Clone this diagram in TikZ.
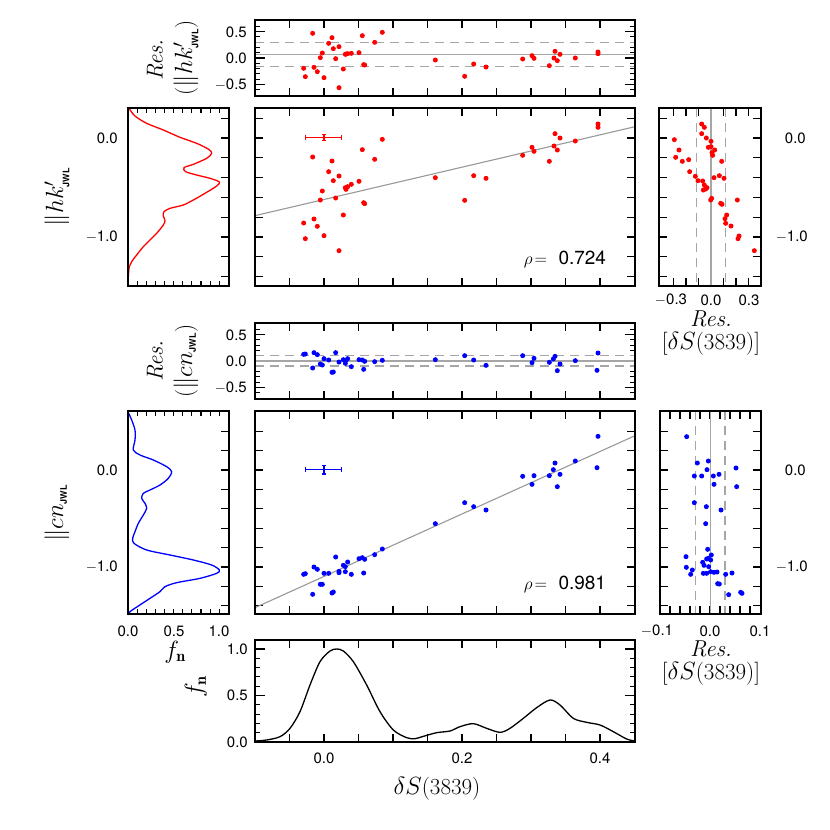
\documentclass[tikz,border=0pt]{standalone}
\usepackage{fontspec}
\newfontfamily\hv{TeX Gyre Heros}
\begin{document}
\begin{tikzpicture}[x=1pt,y=-1pt,
  zm/.style 2 args={shift={(#1,#2)},x={(0.33333pt,0)},y={(0,-0.33333pt)}},
  frame/.style={line width=1.6pt,black},
  tk/.style={line width=1.1pt,black},
  fitl/.style={line width=1.1pt,gray!80},
  zl/.style={line width=1.2pt,gray!70},
  dl/.style={line width=1.2pt,gray!70,dash pattern=on 9pt off 6pt},
  curve/.style={line width=1.3pt},
  tl/.style={font=\hv\fontsize{15}{17}\selectfont,inner sep=0pt},
  al/.style={font=\fontsize{23}{26}\selectfont,inner sep=0pt},
  rl/.style={font=\fontsize{19}{21}\selectfont,inner sep=0pt}]
\newcommand{\jwl}{\mbox{\hv\bfseries\fontsize{9}{10}\selectfont JWL}}
\useasboundingbox (0,0) rectangle (830,830);
\fill[white] (0,0) rectangle (830,830);

\foreach \ya/\yb in {20/96,108/286,323/399,411/614,640/742}{
  \foreach \k in {1,...,10}{
    \draw[tk] ({255+34.5*\k},\ya) -- ++(0,8);
    \draw[tk] ({255+34.5*\k},\yb) -- ++(0,-8);}}
\foreach \z in {58,361}{
  \foreach \k in {-6,...,6}{
    \draw[tk] (255,{\z+5.3*\k}) -- ++(5,0);
    \draw[tk] (635,{\z+5.3*\k}) -- ++(-5,0);}
  \foreach \k in {-1,0,1}{
    \draw[tk] (255,{\z+26.5*\k}) -- ++(10,0);
    \draw[tk] (635,{\z+26.5*\k}) -- ++(-10,0);}}
\foreach \k in {-1,...,7}{
  \foreach \xa/\xb in {255/635,659/761}{
    \draw[tk] (\xa,{138+19.8*\k}) -- ++(8,0);
    \draw[tk] (\xb,{138+19.8*\k}) -- ++(-8,0);}
  \draw[tk] (229,{138+19.8*\k}) -- ++(-8,0);}
\foreach \k in {-2,...,7}{
  \foreach \xa/\xb in {255/635,660/761}{
    \draw[tk] (\xa,{470+19.4*\k}) -- ++(8,0);
    \draw[tk] (\xb,{470+19.4*\k}) -- ++(-8,0);}
  \draw[tk] (229,{470+19.4*\k}) -- ++(-8,0);}
\foreach \ya/\yb in {108/286,411/614}{
  \foreach \k in {1,...,10}{
    \draw[tk] ({128+9.13*\k},\ya) -- ++(0,5);
    \draw[tk] ({128+9.13*\k},\yb) -- ++(0,-5);}}
\foreach \k in {-3,...,3}{
  \draw[tk] ({711+12.5*\k},108) -- ++(0,8);
  \draw[tk] ({711+12.5*\k},286) -- ++(0,-8);}
\foreach \k in {-4,...,4}{
  \draw[tk] ({710+10*\k},411) -- ++(0,8);
  \draw[tk] ({710+10*\k},614) -- ++(0,-8);}
\foreach \k in {1,...,10}{
  \draw[tk] (255,{742-9.3*\k}) -- ++(5,0);
  \draw[tk] (635,{742-9.3*\k}) -- ++(-5,0);}
\foreach \k in {5,10}{
  \draw[tk] (255,{742-9.3*\k}) -- ++(10,0);
  \draw[tk] (635,{742-9.3*\k}) -- ++(-10,0);}

\draw[zl] (255,54.3) -- (635,54.3);
\draw[dl] (255,42.7) -- (635,42.7);
\draw[dl] (255,66.7) -- (635,66.7);
\draw[zl] (255,361) -- (635,361);
\draw[dl] (255,355.7) -- (635,355.7);
\draw[dl] (255,366) -- (635,366);
\draw[zl] (711,108) -- (711,286);
\draw[dl] (696.7,108) -- (696.7,286);
\draw[dl] (725.7,108) -- (725.7,286);
\draw[zl] (710.3,411) -- (710.3,614);
\draw[dl] (695.7,411) -- (695.7,614);
\draw[dl] (725,411) -- (725,614);

\begin{scope}[zm={240}{30}]
\draw[fitl] (45,557) -- (1185,290);
\foreach \p in {(1074,282),(1074,292),(945,311),(960,324),(1006,333),(942,348),(952,360),(876,352),(882,364),(848,376),(928,394),(586,443),(701,437),(738,445),(674,511),(427,328),(367,359),(404,388),(218,381),(276,393),(266,425),(297,438),(280,452),(357,454),(334,463),(323,470),(316,473),(318,478),(247,483),(241,510),(287,504),(371,518),(374,521),(310,555),(222,567),(191,579),(232,589),(196,626),(252,617),(297,662)}
  \fill[red] \p circle[radius=2.5pt];
\draw[red,line width=1.4pt] (197,323) -- (305,323) (197,315) -- (197,331) (305,315) -- (305,331)
  (252,314) -- (252,332) (246,314) -- (258,314) (246,332) -- (258,332);
\foreach \p in {(191,115),(196,140),(218,10),(222,112),(232,125),(241,83),(247,69),(252,143),(266,40),(276,23),(280,56),(287,86),(297,50),(297,173),(310,117),(316,73),(318,72),(323,71),(334,70),(357,68),(367,17),(371,104),(374,105),(404,37),(427,7),(586,90),(674,139),(701,102),(738,111),(848,87),(876,77),(882,85),(928,107),(942,84),(945,64),(952,92),(960,73),(1006,84),(1074,66),(1074,71)}
  \fill[red] \p circle[radius=2.5pt];
\end{scope}
\node[rl] (rho1) at (565,259) {$\rho\!=$\ \ {\hv 0.724}};

\begin{scope}[zm={640}{100}]
\foreach \p in {(185,72),(193,82),(185,101),(199,114),(213,124),(103,119),(205,142),(213,140),(224,150),(216,158),(218,166),(117,150),(107,172),(127,184),(146,179),(245,184),(149,215),(166,229),(174,242),(188,243),(238,227),(252,235),(222,233),(193,255),(201,263),(190,270),(197,267),(215,295),(212,300),(292,300),(242,310),(246,313),(260,345),(255,356),(257,370),(273,378),(297,408),(294,416),(343,452)}
  \fill[red] \p circle[radius=2.5pt];
\end{scope}

\begin{scope}[zm={20}{100}]
\draw[red,curve] plot[smooth] coordinates {(327,25)(345,48)(380,70)(430,90)(480,112)(530,130)(566,148)(575,160)(560,175)(520,193)(492,203)(497,215)(530,225)(570,235)(598,246)(590,258)(555,280)(520,300)(490,315)(450,325)(432,335)(430,348)(435,362)(430,375)(410,400)(390,420)(370,440)(350,465)(335,485)(328,500)(325,530)(325,555)};
\end{scope}

\begin{scope}[zm={240}{310}]
\draw[fitl] (45,893) -- (1185,377);
\foreach \p in {(1074,379),(1071,473),(1006,453),(945,459),(940,479),(960,493),(928,497),(952,530),(848,499),(882,497),(876,523),(674,578),(701,590),(738,600),(586,641),(427,717),(404,734),(357,746),(367,743),(374,748),(371,789),(323,756),(310,766),(316,770),(297,784),(297,788),(316,785),(334,793),(287,741),(266,790),(252,790),(222,771),(232,778),(191,793),(196,791),(241,823),(247,823),(218,853),(276,849),(280,846)}
  \fill[blue] \p circle[radius=2.5pt];
\draw[blue,line width=1.4pt] (197,479) -- (305,479) (197,471) -- (197,487) (305,471) -- (305,487)
  (252,466) -- (252,492) (246,466) -- (258,466) (246,492) -- (258,492);
\foreach \p in {(191,133),(196,132),(222,128),(232,134),(218,174),(241,162),(247,165),(252,146),(266,150),(276,187),(280,186),(287,128),(297,156),(310,149),(316,160),(318,151),(323,146),(334,170),(357,149),(367,150),(371,178),(374,154),(404,155),(427,151),(586,149),(674,137),(701,150),(738,166),(848,137),(876,158),(882,145),(928,157),(940,147),(945,139),(952,182),(960,162),(1006,152),(1074,129),(1071,181)}
  \fill[blue] \p circle[radius=2.5pt];
\end{scope}
\node[rl] (rho2) at (565,584) {$\rho\!=$\ \ {\hv 0.981}};

\begin{scope}[zm={640}{400}]
\foreach \p in {(140,110),(172,189),(205,183),(201,209),(163,228),(185,228),(220,228),(237,223),(288,204),(290,260),(222,253),(163,308),(199,320),(243,330),(197,371),(203,448),(214,465),(138,470),(205,475),(200,477),(188,487),(212,480),(192,496),(206,500),(139,502),(157,510),(152,523),(190,520),(200,520),(212,515),(222,517),(231,516),(257,523),(276,519),(233,551),(238,552),(266,584),(302,577),(306,580)}
  \fill[blue] \p circle[radius=2.5pt];
\end{scope}

\begin{scope}[zm={20}{400}]
\draw[blue,curve] plot[smooth] coordinates {(325,38)(335,60)(345,90)(345,120)(340,150)(360,165)(400,180)(440,200)(455,215)(445,235)(420,255)(390,270)(370,280)(365,295)(375,310)(380,325)(370,345)(355,370)(345,395)(338,415)(342,430)(380,450)(450,465)(520,480)(575,495)(598,510)(590,520)(540,535)(470,548)(435,560)(420,575)(390,595)(355,618)(330,635)(325,645)};
\end{scope}

\begin{scope}[zm={140}{625}]
\draw[black,curve] plot[smooth] coordinates {(345,348)(380,345)(420,335)(450,310)(480,260)(510,180)(540,110)(570,78)(590,72)(610,78)(640,110)(680,180)(720,260)(760,315)(800,338)(825,341)(850,334)(890,323)(930,318)(960,305)(1000,296)(1040,310)(1080,322)(1110,310)(1150,280)(1190,248)(1230,225)(1260,240)(1300,280)(1340,292)(1380,300)(1420,320)(1460,342)(1485,348)};
\end{scope}

\draw[frame] (255,20) rectangle (635,96);
\draw[frame] (255,108) rectangle (635,286);
\draw[frame] (128,108) rectangle (229,286);
\draw[frame] (659,108) rectangle (761,286);
\draw[frame] (255,323) rectangle (635,399);
\draw[frame] (255,411) rectangle (635,614);
\draw[frame] (128,411) rectangle (229,614);
\draw[frame] (660,411) rectangle (761,614);
\draw[frame] (255,640) rectangle (635,742);

\node[tl,anchor=east] (t1) at (247,32) {0.5};
\node[tl,anchor=east] (t2) at (247,58) {0.0};
\node[tl,anchor=east] (t3) at (247,85) {$-$0.5};
\node[tl,anchor=east] (t4) at (247,335) {0.5};
\node[tl,anchor=east] (t5) at (247,361) {0.0};
\node[tl,anchor=east] (t6) at (247,388) {$-$0.5};
\node[tl,anchor=east] (t7) at (118,138) {0.0};
\node[tl,anchor=east] (t8) at (118,237) {$-$1.0};
\node[tl,anchor=east] (t9) at (118,470) {0.0};
\node[tl,anchor=east] (t10) at (118,567) {$-$1.0};
\node[tl,anchor=east] (t11) at (806,138) {0.0};
\node[tl,anchor=east] (t12) at (808,237) {$-$1.0};
\node[tl,anchor=east] (t13) at (806,470) {0.0};
\node[tl,anchor=east] (t14) at (808,567) {$-$1.0};
\node[tl] (t15) at (671,300) {$-$0.3};
\node[tl] (t16) at (711,300) {0.0};
\node[tl] (t17) at (749,300) {0.3};
\node[tl] (t18) at (657,631) {$-$0.1};
\node[tl] (t19) at (710,631) {0.0};
\node[tl] (t20) at (760,631) {0.1};
\node[tl] (t21) at (128,631) {0.0};
\node[tl] (t22) at (174,631) {0.5};
\node[tl] (t23) at (219,631) {1.0};
\node[tl,anchor=east] (t24) at (248,742) {0.0};
\node[tl,anchor=east] (t25) at (248,695) {0.5};
\node[tl,anchor=east] (t26) at (248,649) {1.0};
\node[tl] (t27) at (324,758) {0.0};
\node[tl] (t28) at (462,758) {0.2};
\node[tl] (t29) at (600,758) {0.4};

\node[al,rotate=90] (a1) at (155,60) {\textit{Res.}};
\node[al,rotate=90] (a2) at (186,58) {($\|hk'_{\jwl}$)};
\node[al,rotate=90] (a3) at (155,361) {\textit{Res.}};
\node[al,rotate=90] (a4) at (186,361) {($\|cn_{\jwl}$)};
\node[al,rotate=90] (a5) at (57,197) {$\|hk'_{\jwl}$};
\node[al,rotate=90] (a6) at (57,513) {$\|cn_{\jwl}$};
\node[al] (a7) at (175,652) {$f_{\mathbf{n}}$};
\node[al,rotate=90] (a8) at (196,687) {$f_{\mathbf{n}}$};
\node[al] (a9) at (711,319) {\textit{Res.}};
\node[al] (a10) at (711,344) {[$\delta S$(3839)]};
\node[al] (a11) at (711,649) {\textit{Res.}};
\node[al] (a12) at (711,674) {[$\delta S$(3839)]};
\node[al] (a13) at (437,789) {$\delta S$(3839)};
\end{tikzpicture}
\end{document}
